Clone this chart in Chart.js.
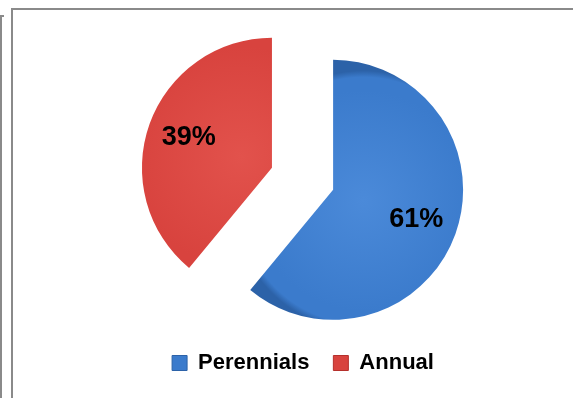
<!DOCTYPE html>
<html>
<head>
<meta charset="utf-8">
<script src="https://cdn.jsdelivr.net/npm/chart.js@4.4.1/dist/chart.umd.min.js"></script>
<style>
  html, body { margin: 0; padding: 0; background: #ffffff; }
  #wrap { position: relative; width: 573px; height: 398px; overflow: hidden; background: #fff; }
  #c { position: absolute; left: 0; top: 0; }
  .ln { position: absolute; background: #8a8a8a; }
</style>
</head>
<body>
<div id="wrap">
  <canvas id="c" width="573" height="398"></canvas>
  <div class="ln" style="left:0;top:15px;width:2px;height:383px;"></div>
  <div class="ln" style="left:0;top:15px;width:4px;height:2px;"></div>
  <div class="ln" style="left:11px;top:8px;width:2px;height:390px;"></div>
  <div class="ln" style="left:11px;top:8px;width:562px;height:2px;"></div>
</div>
<script>
const categories = ['Perennials', 'Annual'];
const values = [61, 39];
const baseColors = ['#3b7bcc', '#d8433e'];
const lightColors = ['#4b8ad9', '#e2524c'];
const darkColors = ['#2c62a8', '#b5302c'];

const PIE_RADIUS = 130;
const SHIFTS = [32, 33];   // explosion distance of each slice (px)

function sliceMid(i) {
  const total = values.reduce((a, b) => a + b, 0);
  let before = 0;
  for (let k = 0; k < i; k++) before += values[k];
  return -Math.PI / 2 + 2 * Math.PI * (before + values[i] / 2) / total;
}

function bevelFill(ctx) {
  const i = ctx.dataIndex;
  const chart = ctx.chart;
  const ca = chart.chartArea;
  if (!ca) return baseColors[i];
  const mid = sliceMid(i);
  const cx = (ca.left + ca.right) / 2 + Math.cos(mid) * SHIFTS[i];
  const cy = (ca.top + ca.bottom) / 2 + Math.sin(mid) * SHIFTS[i];
  const g = chart.ctx.createRadialGradient(cx, cy, 0, cx, cy, PIE_RADIUS);
  g.addColorStop(0, lightColors[i]);
  g.addColorStop(0.85, baseColors[i]);
  g.addColorStop(0.95, baseColors[i]);
  g.addColorStop(1, darkColors[i]);
  return g;
}

// Draw each arc element translated along its mid-angle (plain explosion)
const explodePlugin = {
  id: 'explode',
  beforeDatasetDraw(chart, args) {
    const meta = args.meta;
    const ctx = chart.ctx;
    meta.data.forEach((arc, i) => {
      const mid = (arc.startAngle + arc.endAngle) / 2;
      const s = SHIFTS[i] || 0;
      ctx.save();
      ctx.translate(Math.cos(mid) * s, Math.sin(mid) * s);
      arc.draw(ctx, chart.chartArea);
      ctx.restore();
    });
    return false;
  }
};

const labelPlugin = {
  id: 'sliceLabels',
  afterDatasetsDraw(chart) {
    const meta = chart.getDatasetMeta(0);
    const ctx = chart.ctx;
    const total = values.reduce((a, b) => a + b, 0);
    ctx.save();
    ctx.fillStyle = '#000';
    ctx.font = 'bold 27px "Liberation Sans", Arial, sans-serif';
    ctx.textAlign = 'center';
    ctx.textBaseline = 'middle';
    meta.data.forEach((arc, i) => {
      const mid = (arc.startAngle + arc.endAngle) / 2;
      const s = SHIFTS[i] || 0;
      const ax = arc.x + Math.cos(mid) * s;
      const ay = arc.y + Math.sin(mid) * s;
      const r = arc.outerRadius * 0.68;
      const txt = Math.round(values[i] / total * 100) + '%';
      ctx.fillText(txt, ax + Math.cos(mid) * r, ay + Math.sin(mid) * r);
    });
    ctx.restore();
  }
};

new Chart(document.getElementById('c'), {
  type: 'pie',
  data: {
    labels: categories,
    datasets: [{
      data: values,
      backgroundColor: bevelFill,
      borderWidth: 0,
      hoverOffset: 0
    }]
  },
  options: {
    responsive: false,
    animation: false,
    radius: PIE_RADIUS,
    layout: { padding: { left: 33, right: 0, top: 30, bottom: 14 } },
    plugins: {
      tooltip: { enabled: false },
      legend: {
        position: 'bottom',
        labels: {
          boxWidth: 15,
          boxHeight: 15,
          padding: 24,
          color: '#000',
          font: { family: '"Liberation Sans", Arial, sans-serif', size: 22, weight: 'bold' },
          generateLabels(chart) {
            return categories.map((c, i) => ({
              text: c,
              fillStyle: baseColors[i],
              strokeStyle: darkColors[i],
              lineWidth: 1,
              hidden: false,
              index: i
            }));
          }
        }
      }
    }
  },
  plugins: [explodePlugin, labelPlugin]
});
</script>
</body>
</html>
